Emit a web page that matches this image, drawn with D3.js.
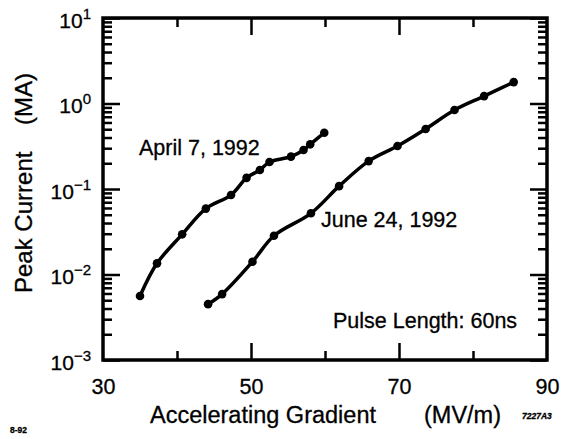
<!DOCTYPE html>
<html>
<head>
<meta charset="utf-8">
<title>Peak Current vs Accelerating Gradient</title>
<style>
  body { margin: 0; background: #fff; }
  text { font-family: "Liberation Sans", Arial, Helvetica, sans-serif; fill: #000; stroke: #000; stroke-width: 0.3; }
</style>
</head>
<body>
<script src="https://cdn.jsdelivr.net/npm/d3@7"></script>
<script>
    var width = 562;
    var height = 439;
    var padding = {left: 103, right: 15, top: 18, bottom: 79};

    // April 7, 1992 run
    var aprilGradient = [35.0, 37.3, 40.7, 43.9, 47.3, 49.4, 51.2, 52.5, 55.4, 57.1, 58.0, 59.9];
    var aprilCurrent  = [0.0056, 0.0135, 0.0295, 0.059, 0.085, 0.135, 0.167, 0.207, 0.239, 0.286, 0.333, 0.455];
    // June 24, 1992 run
    var juneGradient = [44.2, 46.1, 50.2, 53.1, 58.1, 61.9, 65.9, 69.8, 73.6, 77.5, 81.5, 85.5];
    var juneCurrent  = [0.0045, 0.0059, 0.0141, 0.0284, 0.052, 0.108, 0.212, 0.318, 0.503, 0.839, 1.22, 1.78];

    var xMajorTicks = [50, 70];
    var xMinorTicks = [40, 60, 80];
    var xLabelTicks = [30, 50, 70, 90];
    var yDecades = [1e-3, 1e-2, 1e-1, 1, 10];
    var yExponents = ["\u22123", "\u22122", "\u22121", "0", "1"];

    var svg = d3.select("body").append("svg")
        .attr("width", width)
        .attr("height", height);

    var xScale = d3.scaleLinear().domain([30, 90]).range([padding.left, width - padding.right]);
    var yScale = d3.scaleLog().domain([1e-3, 10]).range([height - padding.bottom, padding.top]);

    // minor log ticks 2..9 per decade
    var yMinor = [];
    yDecades.slice(0, 4).forEach(function (d) {
        for (var k = 2; k <= 9; k++) yMinor.push(d * k);
    });

    function styleAxis(g, w) {
        g.select(".domain").remove();
        g.selectAll(".tick line").attr("stroke", "#000").attr("stroke-width", w);
    }

    // left axis: decades with labels, minor ticks
    var left = svg.append("g").attr("transform", "translate(" + padding.left + ",0)")
        .call(d3.axisLeft(yScale).tickValues(yDecades).tickSize(-17).tickPadding(12).tickFormat(""));
    styleAxis(left, 2.5);
    left.selectAll(".tick text").each(function (d, i) {
        var t = d3.select(this).attr("font-size", 21).attr("dy", "0.45em");
        t.append("tspan").text("10");
        t.append("tspan").attr("dy", -9).attr("font-size", 15).text(yExponents[i]);
    });
    svg.append("g").attr("transform", "translate(" + padding.left + ",0)")
        .call(d3.axisLeft(yScale).tickValues(yMinor).tickSize(-9).tickFormat(""))
        .call(styleAxis, 2.5);

    // right axis
    svg.append("g").attr("transform", "translate(" + (width - padding.right) + ",0)")
        .call(d3.axisRight(yScale).tickValues(yDecades).tickSize(-17).tickFormat(""))
        .call(styleAxis, 2.5);
    svg.append("g").attr("transform", "translate(" + (width - padding.right) + ",0)")
        .call(d3.axisRight(yScale).tickValues(yMinor).tickSize(-9).tickFormat(""))
        .call(styleAxis, 2.5);

    // bottom axis
    var bottom = svg.append("g").attr("transform", "translate(0," + (height - padding.bottom) + ")")
        .call(d3.axisBottom(xScale).tickValues(xLabelTicks).tickSize(0).tickPadding(19).tickFormat(d3.format("d")));
    styleAxis(bottom, 0);
    bottom.selectAll(".tick text").attr("font-size", 21.5);
    svg.append("g").attr("transform", "translate(0," + (height - padding.bottom) + ")")
        .call(d3.axisBottom(xScale).tickValues(xMajorTicks).tickSize(-17).tickFormat(""))
        .call(styleAxis, 2.5);
    svg.append("g").attr("transform", "translate(0," + (height - padding.bottom) + ")")
        .call(d3.axisBottom(xScale).tickValues(xMinorTicks).tickSize(-9).tickFormat(""))
        .call(styleAxis, 2.5);

    // top axis
    svg.append("g").attr("transform", "translate(0," + padding.top + ")")
        .call(d3.axisTop(xScale).tickValues(xMajorTicks).tickSize(-17).tickFormat(""))
        .call(styleAxis, 2.5);
    svg.append("g").attr("transform", "translate(0," + padding.top + ")")
        .call(d3.axisTop(xScale).tickValues(xMinorTicks).tickSize(-9).tickFormat(""))
        .call(styleAxis, 2.5);

    // frame
    svg.append("rect")
        .attr("x", padding.left)
        .attr("y", padding.top)
        .attr("width", width - padding.left - padding.right)
        .attr("height", height - padding.top - padding.bottom)
        .attr("fill", "none")
        .attr("stroke", "#000")
        .attr("stroke-width", 3.5);

    // curves
    var line = d3.line()
        .x(function (d) { return xScale(d[0]); })
        .y(function (d) { return yScale(d[1]); })
        .curve(d3.curveCatmullRom.alpha(0.5));

    [[aprilGradient, aprilCurrent], [juneGradient, juneCurrent]].forEach(function (s) {
        var pts = d3.zip(s[0], s[1]);
        svg.append("path")
            .datum(pts)
            .attr("d", line)
            .attr("fill", "none")
            .attr("stroke", "#000")
            .attr("stroke-width", 3.5)
            .attr("stroke-linejoin", "round")
            .attr("stroke-linecap", "round");
        svg.selectAll(null)
            .data(pts)
            .enter()
            .append("circle")
            .attr("cx", function (d) { return xScale(d[0]); })
            .attr("cy", function (d) { return yScale(d[1]); })
            .attr("r", 4.3)
            .attr("fill", "#000");
    });

    // annotations
    svg.append("text").attr("x", 139).attr("y", 155).attr("font-size", 21.5).text("April 7, 1992");
    svg.append("text").attr("x", 321).attr("y", 227).attr("font-size", 21.5).text("June 24, 1992");
    svg.append("text").attr("x", 333).attr("y", 328).attr("font-size", 21.5).text("Pulse Length: 60ns");

    // axis titles
    svg.append("text").attr("x", 150).attr("y", 423).attr("font-size", 23.5).text("Accelerating Gradient");
    svg.append("text").attr("x", 501).attr("y", 423).attr("font-size", 23.5).attr("text-anchor", "end").text("(MV/m)");
    svg.append("text")
        .attr("transform", "translate(32,293) rotate(-90)")
        .attr("font-size", 24)
        .text("Peak Current");
    svg.append("text")
        .attr("transform", "translate(32,73) rotate(-90)")
        .attr("text-anchor", "end")
        .attr("font-size", 24)
        .text("(MA)");

    // figure ids
    svg.append("text").attr("x", 10).attr("y", 433).attr("font-size", 8.5).attr("font-weight", "bold").text("8-92");
    svg.append("text").attr("x", 522).attr("y", 419).attr("font-size", 8.5).attr("font-weight", "bold")
        .attr("font-style", "italic").text("7227A3");
</script>
</body>
</html>
